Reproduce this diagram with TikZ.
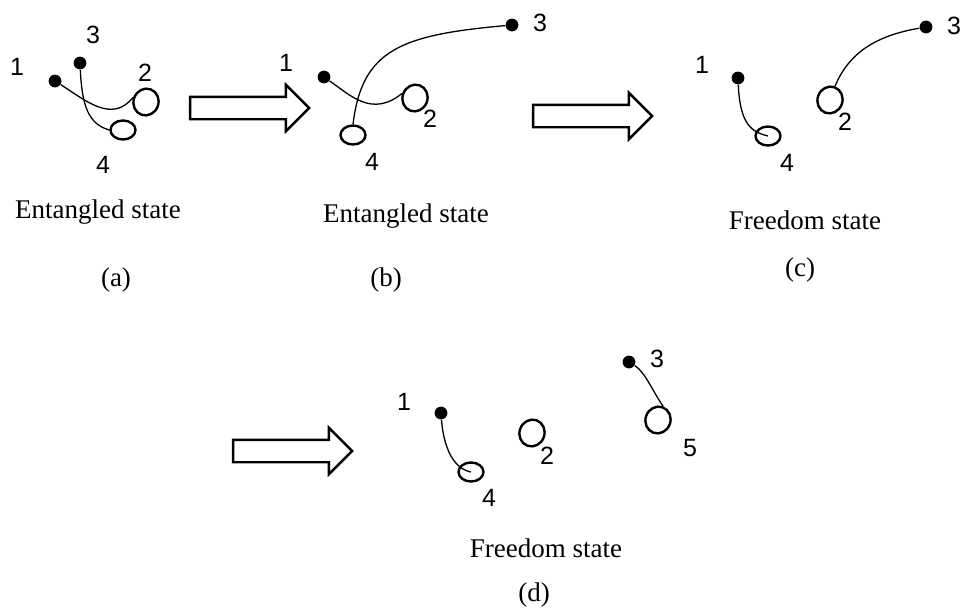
\documentclass[tikz,border=0pt]{standalone}
\usepackage{fontspec}
\setmainfont{Liberation Serif}
\newfontfamily\numfont{Liberation Sans}
\usetikzlibrary{shapes.geometric, shapes.arrows}

\begin{document}
\begin{tikzpicture}[
    x=0.5pt, y=-0.5pt,
    bead/.style={circle, fill=black, inner sep=0pt, minimum size=6.4pt},
    ring/.style={ellipse, draw=black, line width=1.2pt, inner sep=0pt, minimum width=12.5pt, minimum height=13.5pt, rotate=-20},
    knot/.style={ellipse, draw=black, line width=1.2pt, inner sep=0pt, minimum width=12.5pt, minimum height=9.5pt},
    num/.style={font=\numfont\fontsize{12.5}{14}\selectfont, inner sep=0pt},
    caption/.style={font=\fontsize{13.5}{16}\selectfont, inner sep=0pt},
    chain/.style={line width=0.65pt},
    fatarrow/.style={single arrow, draw=black, line width=1.2pt, inner xsep=0pt, inner ysep=5pt, minimum height=59.5pt, single arrow head extend=6pt, single arrow tip angle=90}
]
    \path[use as bounding box] (0,0) rectangle (960,607);

    % (a) entangled
    \node[bead] (a1) at (55,81) {};
    \node[bead] (a3) at (80,63) {};
    \node[ring] (a2) at (146,102) {};
    \node[knot] (a4) at (123,130) {};
    \node[num] (a1l) at (17,67) {1};
    \node[num] (a3l) at (93,35) {3};
    \node[num] (a2l) at (145,73) {2};
    \node[num] (a4l) at (103,165) {4};
    \draw[chain] (a1) .. controls (85,100) and (112,124) .. (a2.west);
    \draw[chain] (a3) .. controls (82,105) and (88,124) .. (a4.west);
    \node[caption] (acap) at (98,212) {Entangled state};
    \node[caption] (atag) at (116,280) {(a)};

    \node[fatarrow] (arr1) at (244,108) {};

    % (b) entangled
    \node[bead] (b1) at (324,77) {};
    \node[bead] (b3) at (512,25) {};
    \node[ring] (b2) at (415,98) {};
    \node[knot] (b4) at (353,135) {};
    \node[num] (b1l) at (286,63) {1};
    \node[num] (b3l) at (540,23) {3};
    \node[num] (b2l) at (430,119) {2};
    \node[num] (b4l) at (372,162) {4};
    \draw[chain] (b1) .. controls (350,95) and (372,118) .. (b2.west);
    \draw[chain] (b4.north) .. controls (362,50) and (400,35) .. (b3);
    \node[caption] (bcap) at (406,216) {Entangled state};
    \node[caption] (btag) at (386,280) {(b)};

    \node[fatarrow] (arr2) at (587,116) {};

    % (c) freedom
    \node[bead] (c1) at (738,78) {};
    \node[bead] (c3) at (926,27) {};
    \node[ring] (c2) at (830,100) {};
    \node[knot] (c4) at (768,136) {};
    \node[num] (c1l) at (702,65) {1};
    \node[num] (c3l) at (954,26) {3};
    \node[num] (c2l) at (845,122) {2};
    \node[num] (c4l) at (787,163) {4};
    \draw[chain] (c1) .. controls (740,125) and (752,132) .. (c4.center);
    \draw[chain] (c2.north) .. controls (850,50) and (880,35) .. (c3);
    \node[caption] (ccap) at (805,220) {Freedom state};
    \node[caption] (ctag) at (800,270) {(c)};

    \node[fatarrow] (arr3) at (287,451) {};

    % (d) freedom
    \node[bead] (d1) at (441,413) {};
    \node[bead] (d3) at (629,362) {};
    \node[ring] (d2) at (532,433) {};
    \node[knot] (d4) at (471,472) {};
    \node[ring] (d5) at (658,420) {};
    \node[num] (d1l) at (404,402) {1};
    \node[num] (d3l) at (657,359) {3};
    \node[num] (d2l) at (547,456) {2};
    \node[num] (d4l) at (489,498) {4};
    \node[num] (d5l) at (690,448) {5};
    \draw[chain] (d1) .. controls (443,440) and (450,468) .. (d4.center);
    \draw[chain] (d3) .. controls (645,372) and (652,390) .. (d5.north);
    \node[caption] (dcap) at (546,548) {Freedom state};
    \node[caption] (dtag) at (534,595) {(d)};
\end{tikzpicture}
\end{document}
